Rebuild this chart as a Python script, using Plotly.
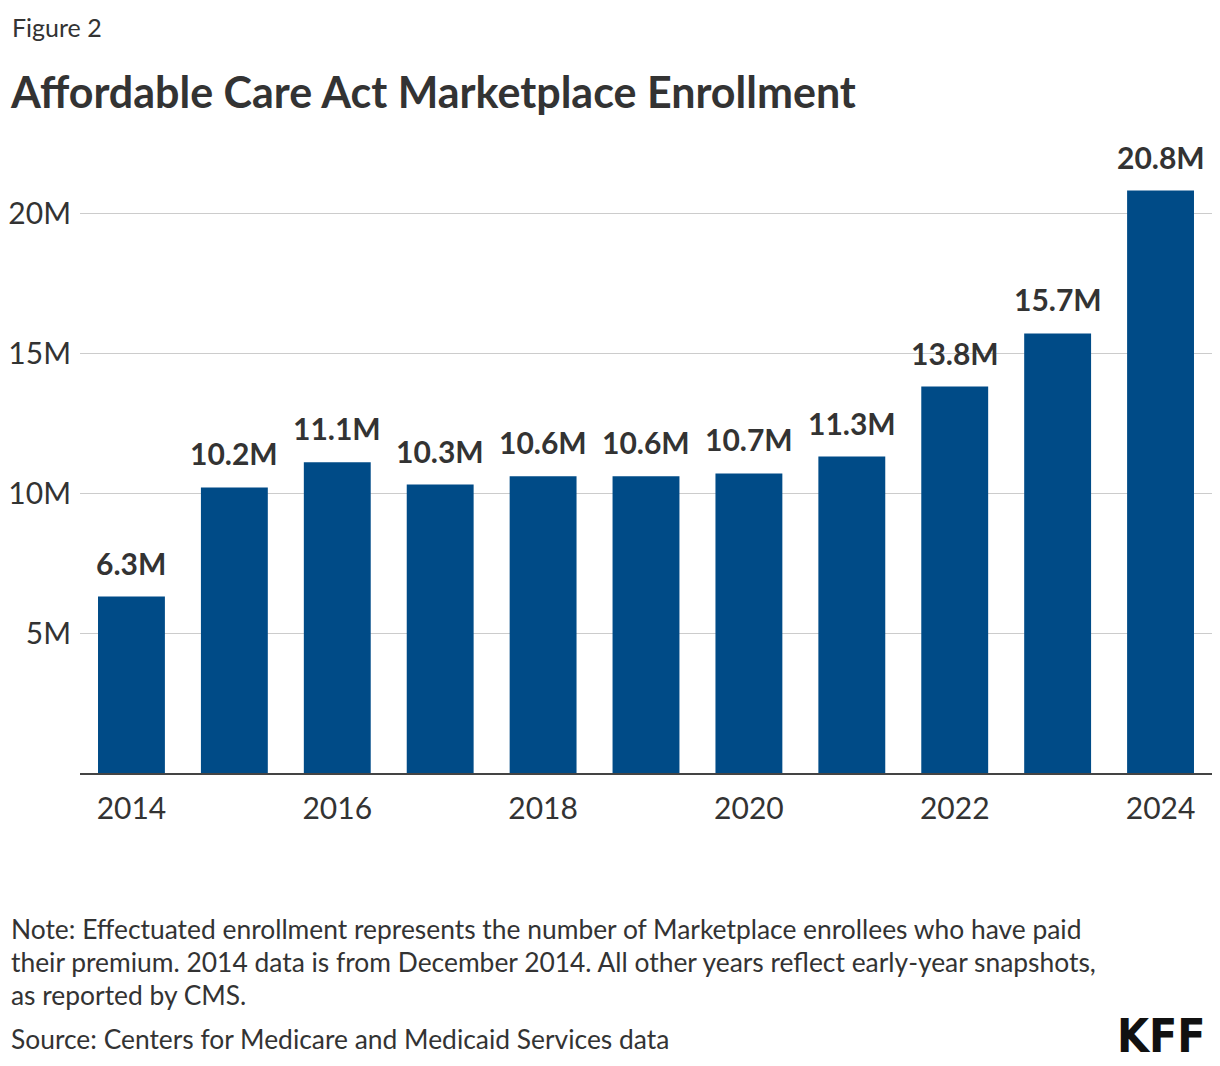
import plotly.graph_objects as go

years = [2014, 2015, 2016, 2017, 2018, 2019, 2020, 2021, 2022, 2023, 2024]
enrollment_m = [6.3, 10.2, 11.1, 10.3, 10.6, 10.6, 10.7, 11.3, 13.8, 15.7, 20.8]
bar_labels = ["6.3M", "10.2M", "11.1M", "10.3M", "10.6M", "10.6M", "10.7M", "11.3M", "13.8M", "15.7M", "20.8M"]
x_tick_vals = [2014, 2016, 2018, 2020, 2022, 2024]
x_tick_text = ["2014", "2016", "2018", "2020", "2022", "2024"]
y_tick_vals = [5, 10, 15, 20]
y_tick_text = ["5M", "10M", "15M", "20M"]

FONT = "Lato, 'Source Sans Pro', 'Noto Sans', sans-serif"
TXT = "#333333"
BAR = "#004B87"

W, H = 1220, 1066
L, R = 80, 8
PLOT_TOP, PLOT_BOT = 157, 773
YMAX = 22

fig = go.Figure()
fig.add_trace(go.Bar(
    x=years, y=enrollment_m, width=0.65, marker=dict(color=BAR, line=dict(width=0)),
    hoverinfo="skip", showlegend=False,
))

def py(p):
    return (PLOT_BOT - p) / (PLOT_BOT - PLOT_TOP)

def px(p):
    return (p - L) / (W - L - R)

ann = []
for xv, v, lab in zip(years, enrollment_m, bar_labels):
    ann.append(dict(x=xv, y=v, xref="x", yref="y", text=lab, showarrow=False,
                    yanchor="bottom", yshift=14,
                    font=dict(family=FONT, size=30, color=TXT, weight="bold")))

ann.append(dict(x=px(10), y=py(27), xref="paper", yref="paper", xanchor="left", yanchor="middle",
                text="Figure 2", showarrow=False, font=dict(family=FONT, size=25, color=TXT)))
ann.append(dict(x=px(8), y=py(92), xref="paper", yref="paper", xanchor="left", yanchor="middle",
                text="<b>Affordable Care Act Marketplace Enrollment</b>", showarrow=False,
                font=dict(family=FONT, size=43, color=TXT)))
notes = [
    "Note: Effectuated enrollment represents the number of Marketplace enrollees who have paid",
    "their premium. 2014 data is from December 2014. All other years reflect early-year snapshots,",
    "as reported by CMS.",
]
for i, line in enumerate(notes):
    ann.append(dict(x=px(9), y=py([929, 962, 995][i]), xref="paper", yref="paper",
                    xanchor="left", yanchor="middle", text=line, showarrow=False,
                    font=dict(family=FONT, size=26.4, color=TXT)))
ann.append(dict(x=px(9), y=py(1039), xref="paper", yref="paper", xanchor="left", yanchor="middle",
                text="Source: Centers for Medicare and Medicaid Services data", showarrow=False,
                font=dict(family=FONT, size=26.4, color=TXT)))
ann.append(dict(x=px(1208), y=py(1036), xref="paper", yref="paper", xanchor="right", yanchor="middle",
                text="<b>KFF</b>", showarrow=False,
                font=dict(family="'Liberation Sans Narrow', 'DejaVu Sans Condensed', sans-serif", size=46, color="#111111")))

fig.update_layout(
    width=W, height=H,
    margin=dict(l=L, r=R, t=PLOT_TOP, b=H - PLOT_BOT, pad=0),
    paper_bgcolor="white", plot_bgcolor="white",
    annotations=ann,
    font=dict(family=FONT, color=TXT),
)
fig.update_xaxes(
    range=[2013.5, 2024.5], tickvals=x_tick_vals, ticktext=x_tick_text,
    tickfont=dict(family=FONT, size=30, color=TXT),
    showline=True, linecolor="#444444", linewidth=2, ticks="", showgrid=False,
    zeroline=False, ticklabelstandoff=8,
)
fig.update_yaxes(
    range=[0, YMAX], tickvals=y_tick_vals, ticktext=y_tick_text,
    tickfont=dict(family=FONT, size=30, color=TXT),
    showgrid=True, gridcolor="#cccccc", gridwidth=1, zeroline=False,
    ticks="", ticklabelstandoff=8,
)

fig.write_html("out.html")
